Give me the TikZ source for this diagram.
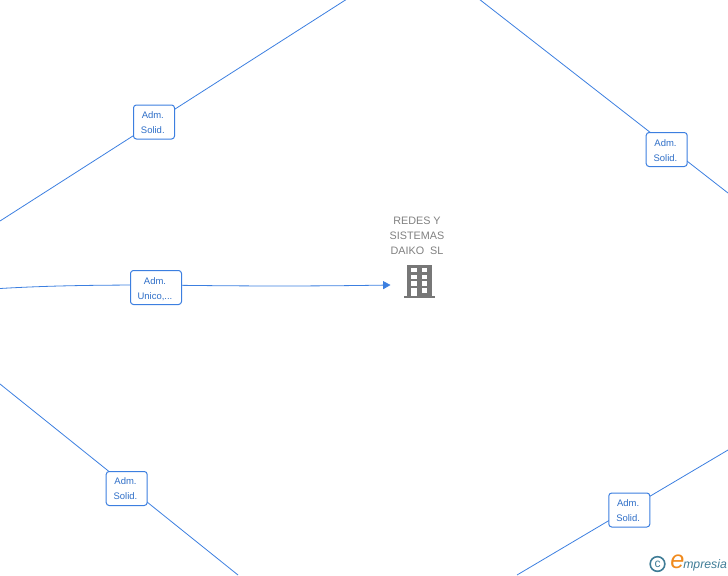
\documentclass[tikz,border=0pt]{standalone}
\usepackage{fontspec}
\setmainfont{Liberation Sans}
\usetikzlibrary{arrows.meta}
\definecolor{lnk}{HTML}{3C7FE0}
\definecolor{txtb}{HTML}{2F6FC8}
\definecolor{grayt}{HTML}{808080}
\definecolor{bld}{HTML}{777777}
\definecolor{logob}{HTML}{3F7C96}
\definecolor{logoo}{HTML}{F08A1D}
\tikzset{
 rolebox/.style={draw=lnk,fill=white,rounded corners=2.2pt,line width=0.75pt,inner sep=0pt,
   minimum height=25.5pt},
 roletext/.style={text=txtb,font=\fontsize{7.1pt}{11.25pt}\selectfont,align=center,inner sep=0pt},
 linkline/.style={draw=lnk,line width=0.6pt},
 title/.style={text=grayt,font=\fontsize{8.1pt}{11.25pt}\selectfont,align=center,inner sep=0pt},
}
\begin{document}
\begin{tikzpicture}[x=0.75pt,y=-0.75pt]
\useasboundingbox (0,0) rectangle (728,575);
\coordinate (e1a) at (0,221);
\coordinate (e1b) at (347,-1);
\coordinate (e2a) at (479,-1);
\coordinate (e2b) at (728,193);
\coordinate (e3a) at (0,288.5);
\coordinate (e4a) at (0,384);
\coordinate (e4b) at (238,575);
\coordinate (e5a) at (517,575);
\coordinate (e5b) at (728,450);
\coordinate (target) at (390.5,285);
\draw[linkline] (e1a) -- (e1b);
\draw[linkline] (e2a) -- (e2b);
\draw[linkline] (e4a) -- (e4b);
\draw[linkline] (e5a) -- (e5b);
\draw[linkline,-{Triangle[length=5.5pt,width=6pt]}] (e3a) .. controls (50,285.5) and (100,285) .. (156,285) .. controls (230,286) and (300,286.5) .. (target);
\node[rolebox,minimum width=30.75pt] (b1) at (154,122) {};
\node[rolebox,minimum width=30.75pt] (b2) at (666.7,149.5) {};
\node[rolebox,minimum width=38.25pt] (b3) at (156,287.5) {};
\node[rolebox,minimum width=30.75pt] (b4) at (126.7,488.5) {};
\node[rolebox,minimum width=30.75pt] (b5) at (629.3,510) {};
\node[roletext] at (152.8,122.6) {Adm.\\Solid.};
\node[roletext] at (665.5,150.9) {Adm.\\Solid.};
\node[roletext] at (155,289) {Adm.\\Unico,...};
\node[roletext] at (125.5,489.1) {Adm.\\Solid.};
\node[roletext] at (628.1,510.6) {Adm.\\Solid.};
\node[title] (t) at (417,235.5) {REDES Y\\SISTEMAS\\DAIKO\ \ SL};
\fill[bld] (407,265) rectangle (431.5,296);
\fill[bld] (403.5,295.8) rectangle (435,298);
\foreach \yy in {268,274.5,281.3}{
  \fill[white] (411,\yy) rectangle (416.5,\yy+4.2);
  \fill[white] (421.8,\yy) rectangle (427.3,\yy+4.2);
}
\fill[white] (411,288) rectangle (416.5,296);
\fill[white] (421.8,288) rectangle (427.3,292.5);
\node[draw=logob,circle,line width=1.2pt,minimum size=11pt,inner sep=0pt,text=logob,font=\fontsize{9pt}{9pt}\selectfont] (c) at (657.5,564) {c};
\node[inner sep=0pt,text=logoo,font=\fontsize{19pt}{19pt}\selectfont\itshape] (le) at (677.5,562) {e};
\node[inner sep=0pt,anchor=west,text=logob,font=\fontsize{9.2pt}{9pt}\selectfont\itshape] (lw) at (683,565) {mpresia};
\end{tikzpicture}
\end{document}
